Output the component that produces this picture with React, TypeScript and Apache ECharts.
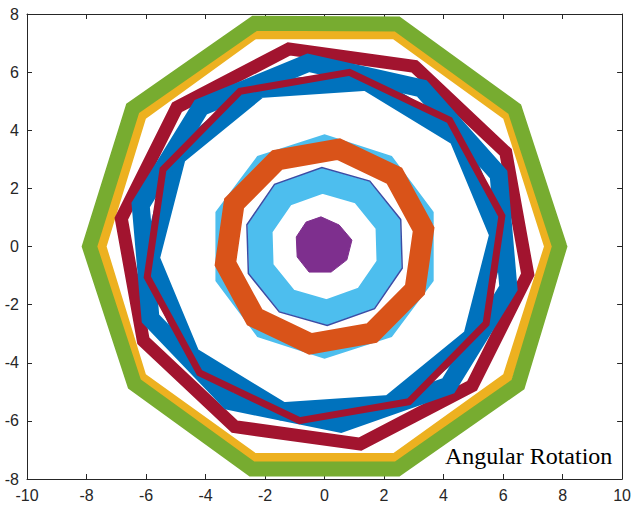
import React, { useEffect, useRef } from "react";
import * as echarts from "echarts";

// Vertices (x, y) of each ring (data units)
const greenRing: number[][] = [
  [7.9, 0.0], [6.39, 4.73], [2.44, 7.66], [-2.35, 7.68], [-6.45, 4.75],
  [-7.9, 0.0], [-6.39, -4.73], [-2.44, -7.66], [2.44, -7.66], [6.5, -4.75],
];
const yellowRing: number[][] = [
  [7.55, 0.0], [6.15, 4.5], [2.37, 7.3], [-2.37, 7.3], [-6.15, 4.5],
  [-7.5, 0.0], [-6.15, -4.5], [-2.37, -7.28], [2.37, -7.28], [6.15, -4.5],
];
const darkRedOuter: number[][] = [
  [6.09, 3.24], [3.02, 6.2], [-1.2, 6.8], [-4.96, 4.79], [-6.83, 0.96],
  [-6.09, -3.24], [-3.02, -6.2], [1.2, -6.8], [4.96, -4.79], [6.83, -0.96],
];
const darkRedInner: number[][] = [
  [5.96, 1.05], [4.2, 4.35], [0.84, 5.99], [-2.84, 5.34], [-5.43, 2.65],
  [-5.96, -1.05], [-4.2, -4.35], [-0.84, -5.99], [2.84, -5.34], [5.43, -2.65],
];
const blueOuter: number[][] = [
  [5.85, 2.48], [3.27, 5.44], [-0.55, 6.32], [-4.16, 4.79], [-6.18, 1.43],
  [-5.85, -2.48], [-3.2, -5.32], [0.54, -6.1], [4.16, -4.79], [6.18, -1.43],
];
const blueInner: number[][] = [
  [5.84, 0.41], [4.48, 3.76], [1.42, 5.67], [-2.19, 5.42], [-4.96, 3.1],
  [-5.84, -0.41], [-4.48, -3.76], [-1.42, -5.67], [2.19, -5.42], [4.96, -3.1],
];
const lightBlueOuter: number[][] = [
  [3.55, 1.15], [2.19, 3.01], [0.0, 3.74], [-2.19, 3.01], [-3.55, 1.15],
  [-3.55, -1.15], [-2.19, -3.01], [0.0, -3.74], [2.19, -3.01], [3.55, -1.15],
];
const orangeRing: number[][] = [
  [3.33, 0.59], [2.35, 2.43], [0.47, 3.35], [-1.59, 2.98], [-3.04, 1.48],
  [-3.33, -0.59], [-2.35, -2.43], [-0.47, -3.35], [1.59, -2.98], [3.04, -1.48],
];
const lightBlueInner: number[][] = [
  [2.13, 0.77], [1.26, 1.87], [-0.08, 2.26], [-1.39, 1.78], [-2.17, 0.62],
  [-2.13, -0.77], [-1.26, -1.87], [0.08, -2.26], [1.39, -1.78], [2.17, -0.62],
];
const indigoEdge: number[][] = [
  [2.56, 0.93], [1.52, 2.25], [-0.09, 2.72], [-1.68, 2.14], [-2.61, 0.75],
  [-2.56, -0.93], [-1.52, -2.25], [0.09, -2.72], [1.68, -2.14], [2.61, -0.75],
];
const purpleCore: number[][] = [
  [-0.12, 1.02], [0.49, 0.74], [0.92, 0.22], [0.75, -0.46], [0.22, -0.88],
  [-0.52, -0.88], [-0.92, -0.36], [-0.95, 0.33], [-0.62, 0.84],
];

const xTicks = { min: -10, max: 10, interval: 2 };
const yTicks = { min: -8, max: 8, interval: 2 };
const caption = "Angular Rotation";

// wrap past the first vertex so that every corner gets a proper join
const close = (pts: number[][]) => [...pts, pts[0], pts[1]];

const ring = (pts: number[][], color: string, width: number) => ({
  type: "line",
  data: close(pts),
  symbol: "none",
  silent: true,
  lineStyle: { color, width, join: "miter", miterLimit: 10, cap: "butt" },
});

const axisCommon = {
  type: "value",
  axisLine: { show: true, onZero: false, lineStyle: { color: "#262626", width: 1 } },
  axisTick: { show: true, inside: true, length: 5, lineStyle: { color: "#262626" } },
  splitLine: { show: false },
};

export default function App() {
  const ref = useRef<HTMLDivElement>(null);
  useEffect(() => {
    if (!ref.current) return;
    const chart = echarts.init(ref.current, undefined, { renderer: "svg" });
    const labelStyle = {
      color: "#262626",
      fontSize: 16,
      fontFamily: "Liberation Sans, Arial, sans-serif",
      margin: 8,
    };
    chart.setOption({
      animation: false,
      backgroundColor: "#ffffff",
      grid: { left: 27, right: 10, top: 14, bottom: 31, containLabel: false },
      xAxis: [
        { ...axisCommon, ...xTicks, position: "bottom", axisLabel: labelStyle },
        { ...axisCommon, ...xTicks, position: "top", axisLabel: { show: false } },
      ],
      yAxis: [
        { ...axisCommon, ...yTicks, position: "left", axisLabel: labelStyle },
        { ...axisCommon, ...yTicks, position: "right", axisLabel: { show: false } },
      ],
      series: [
        ring(yellowRing, "#EDB120", 10),
        ring(greenRing, "#77AC30", 15),
        ring(darkRedOuter, "#A2142F", 13),
        ring(blueInner, "#0072BD", 18),
        ring(blueOuter, "#0072BD", 18),
        ring(darkRedInner, "#A2142F", 7),
        ring(lightBlueOuter, "#4DBEEE", 7),
        ring(orangeRing, "#D95319", 21),
        ring(lightBlueInner, "#4DBEEE", 25),
        ring(indigoEdge, "#3B4CA5", 1.5),
        {
          type: "custom",
          coordinateSystem: "cartesian2d",
          silent: true,
          data: purpleCore,
          renderItem: (params: any, api: any) => {
            if (params.dataIndex !== 0) return null;
            const points = purpleCore.map((p) => api.coord(p));
            return {
              type: "polygon",
              shape: { points },
              style: { fill: "#7E2F8E", stroke: "#7E2F8E", lineWidth: 1 },
            };
          },
        },
      ],
      graphic: [
        {
          type: "text",
          x: 445,
          y: 456,
          z: 100,
          style: {
            text: caption,
            fontSize: 24,
            fontFamily: "Liberation Serif, Times New Roman, serif",
            fill: "#000000",
            align: "left",
            verticalAlign: "middle",
          },
        },
      ],
    });
    return () => chart.dispose();
  }, []);
  return (
    <div
      ref={ref}
      style={{ width: 634, height: 510, position: "absolute", left: 0, top: 0 }}
    />
  );
}
